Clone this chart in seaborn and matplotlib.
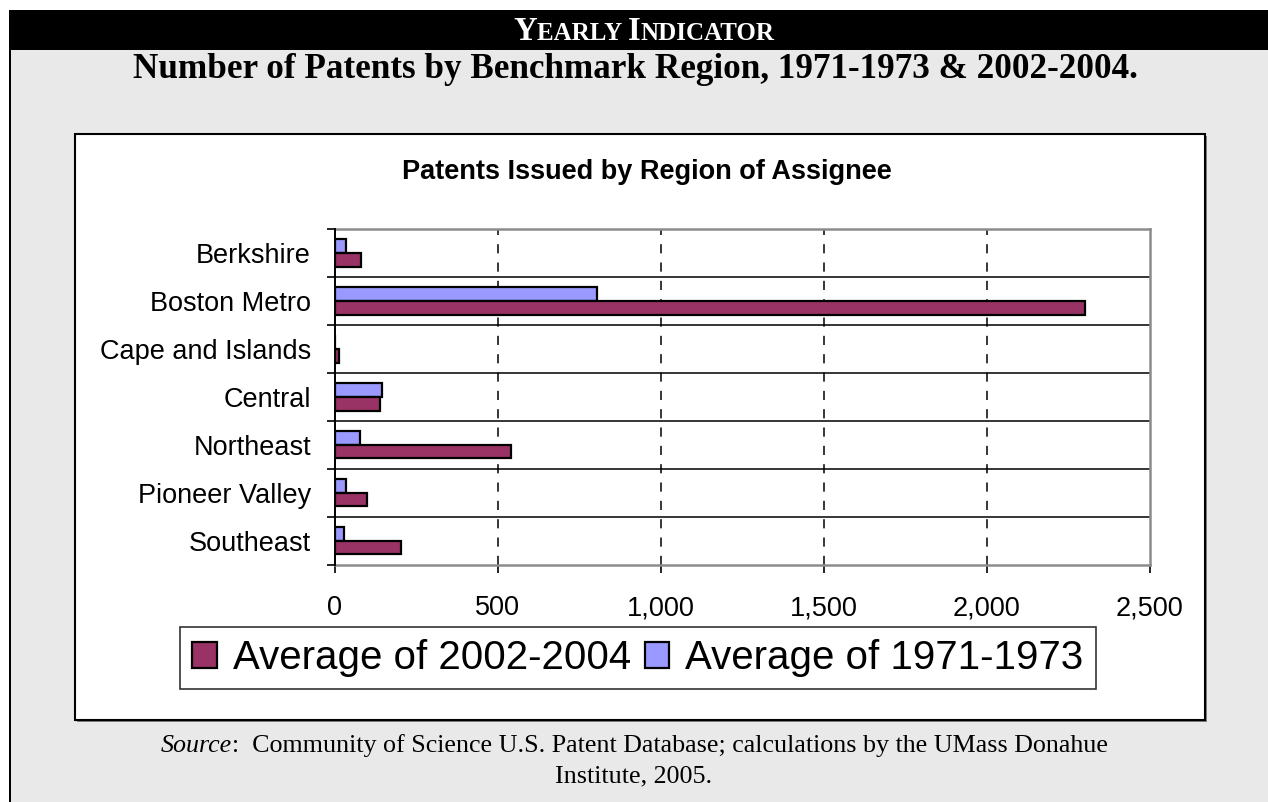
import matplotlib
matplotlib.use("Agg")
import matplotlib.pyplot as plt
from matplotlib.patches import Rectangle, Patch
from matplotlib.offsetbox import TextArea, HPacker, AnchoredOffsetbox
import seaborn as sns
import pandas as pd
import numpy as np

regions = ["Berkshire", "Boston Metro", "Cape and Islands", "Central",
           "Northeast", "Pioneer Valley", "Southeast"]
avg_2002_2004 = [82, 2300, 12, 140, 541, 99, 203]
avg_1971_1973 = [35, 805, 0, 145, 77, 35, 29]
series_names = ["Average of 2002-2004", "Average of 1971-1973"]
x_ticks = [0, 500, 1000, 1500, 2000, 2500]

df = pd.DataFrame({
    "Region": regions * 2,
    "Patents": avg_1971_1973 + avg_2002_2004,
    "Series": [series_names[1]] * len(regions) + [series_names[0]] * len(regions),
})

RED = "#993366"
BLUE = "#9999FF"
GREY = "#e9e9e9"

sns.set_theme(style="white")
plt.rcParams["font.family"] = ["Liberation Sans", "DejaVu Sans"]
plt.rcParams["text.color"] = "black"
plt.rcParams["xtick.color"] = "black"
plt.rcParams["ytick.color"] = "black"
plt.rcParams["axes.labelcolor"] = "black"

W, H = 1268, 802
fig = plt.figure(figsize=(W / 100, H / 100), dpi=100)
fig.patch.set_facecolor("white")

def px_rect(x0, y0, x1, y1, **kw):
    r = Rectangle((x0 / W, 1 - y1 / H), (x1 - x0) / W, (y1 - y0) / H,
                  transform=fig.transFigure, **kw)
    fig.add_artist(r)
    return r

def packed_text(parts, x, y, sep=0):
    boxes = [TextArea(t, textprops=props) for t, props in parts]
    hp = HPacker(children=boxes, align="baseline", pad=0, sep=sep)
    ab = AnchoredOffsetbox(loc="center", child=hp, frameon=False,
                           bbox_to_anchor=(x / W, 1 - y / H),
                           bbox_transform=fig.transFigure, borderpad=0, pad=0)
    ab.set_zorder(7)
    fig.add_artist(ab)
    return ab

# grey panel, black banner, left border
px_rect(9, 50, W + 5, H + 5, facecolor=GREY, edgecolor="none", zorder=0)
px_rect(9, 10, W + 5, 50, facecolor="black", edgecolor="none", zorder=0)
px_rect(9, 10, 11.5, H + 5, facecolor="black", edgecolor="none", zorder=0)
# chart box with slight shadow
px_rect(77, 136, 1207, 722, facecolor="#808080", edgecolor="none", zorder=0.5)
px_rect(75, 134, 1205, 720, facecolor="white", edgecolor="black", linewidth=1.5, zorder=1)

# header: small caps approximation
big = dict(color="white", fontsize=23.5, fontweight="bold", family="Liberation Serif")
small = dict(color="white", fontsize=18, fontweight="bold", family="Liberation Serif")
packed_text([("Y", big), ("EARLY ", small), ("I", big), ("NDICATOR", small)], 644, 31)

fig.text(635 / W, 1 - 70 / H,
         "Number of Patents by Benchmark Region, 1971-1973 & 2002-2004.",
         fontsize=25.3, fontweight="bold", family="Liberation Serif",
         ha="center", va="center", color="black")

fig.text(647 / W, 1 - 172 / H, "Patents Issued by Region of Assignee",
         fontsize=19.5, fontweight="bold", ha="center", va="center", zorder=5)

# source lines
src_it = dict(color="black", fontsize=18.7, style="italic", family="Liberation Serif")
src_rm = dict(color="black", fontsize=18.7, family="Liberation Serif")
packed_text([("Source", src_it),
             (":  Community of Science U.S. Patent Database; calculations by the UMass Donahue",
              src_rm)], 634, 746)
fig.text(634 / W, 1 - 776 / H, "Institute, 2005.", fontsize=18.7,
         family="Liberation Serif", ha="center", va="center")

# axes
ax = fig.add_axes([334.7 / W, 1 - 564.5 / H, (1149.7 - 334.7) / W, (564.5 - 228.7) / H],
                  zorder=3)
ax.set_facecolor("white")
sns.barplot(data=df, y="Region", x="Patents", hue="Series",
            hue_order=[series_names[1], series_names[0]],
            palette=[BLUE, RED], orient="h", width=0.58, order=regions,
            edgecolor="black", linewidth=1.6, saturation=1, ax=ax, legend=False)

ax.set_xlim(0, 2500)
ax.set_ylim(6.5, -0.5)
ax.set_xticks(x_ticks)
ax.set_xticklabels([f"{v:,}" for v in x_ticks])
ax.set_yticks(range(len(regions)))
ax.set_yticklabels(regions)
ax.set_yticks(np.arange(-0.5, len(regions), 1), minor=True)
ax.set_xlabel("")
ax.set_ylabel("")

ax.tick_params(axis="y", which="major", length=0, pad=17, labelsize=19.5, colors="black")
ax.tick_params(axis="y", which="minor", length=6, width=1.2, direction="out",
               color="black", left=True)
ax.tick_params(axis="x", which="major", length=6, width=1.2, direction="out",
               pad=16, labelsize=19.5, colors="black", bottom=True)

ax.grid(False)
for v in x_ticks[1:-1]:
    ax.axvline(v, color="black", linestyle=(0, (6, 6)), linewidth=1.1, zorder=0)
for b in np.arange(0.5, len(regions) - 1, 1):
    ax.axhline(b, color="black", linewidth=1.1, zorder=0)

for s in ["top", "right", "bottom"]:
    ax.spines[s].set_color("#8c8c8c")
    ax.spines[s].set_linewidth(1.8)
ax.spines["left"].set_color("black")
ax.spines["left"].set_linewidth(1.4)
ax.spines["left"].set_zorder(5)

# legend
handles = [Patch(facecolor=RED, edgecolor="black", linewidth=1.6, label=series_names[0]),
           Patch(facecolor=BLUE, edgecolor="black", linewidth=1.6, label=series_names[1])]
leg = fig.legend(handles=handles, loc="center", bbox_to_anchor=(638 / W, 1 - 658 / H),
                 ncol=2, fontsize=29, frameon=True, fancybox=False, edgecolor="black",
                 handlelength=0.6, handleheight=0.6, handletextpad=0.4,
                 columnspacing=0.35, borderpad=0.3, borderaxespad=0)
leg.get_frame().set_linewidth(1.2)
leg.set_zorder(6)
for t in leg.get_texts():
    t.set_color("black")

fig.savefig("out.png", dpi=100, facecolor="white")
